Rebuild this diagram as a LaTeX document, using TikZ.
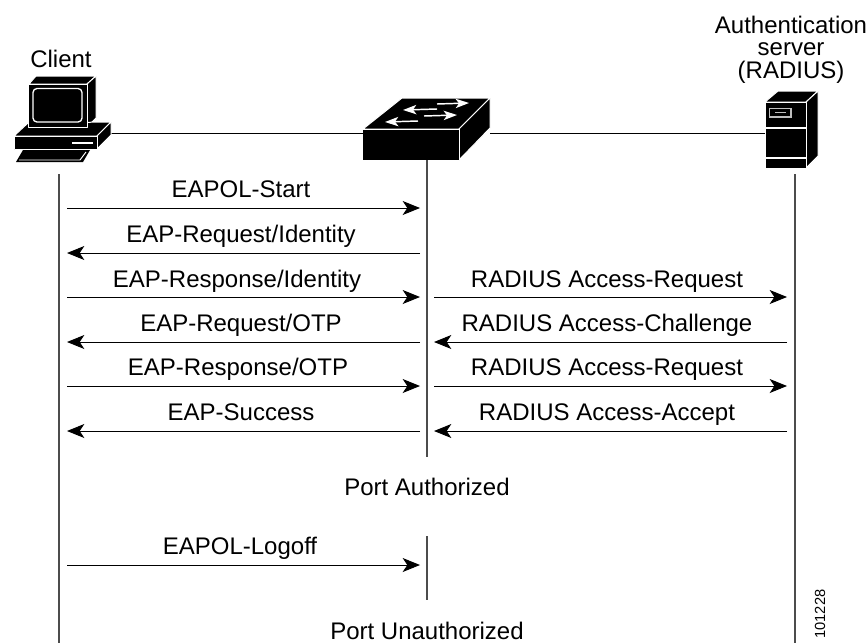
\documentclass[tikz,border=0pt]{standalone}
\usepackage{fontspec}
\setmainfont{Liberation Sans}
\usetikzlibrary{arrows.meta}
\tikzset{
  x=0.75pt,y=-0.75pt,
  wire/.style={draw=black,line width=0.75pt},
  life/.style={draw=black!70,line width=0.9pt},
  msg/.style={wire,-{Stealth[length=13pt,width=10.5pt,inset=3.5pt]}},
  lbl/.style={font=\fontsize{18}{21}\selectfont,text=black,inner sep=0pt,anchor=base},
  ink/.style={fill=black,draw=white,line width=0.75pt,line join=round},
  wht/.style={draw=white,line width=1pt},
  whtarrow/.style={draw=white,line width=1.1pt,-{Stealth[length=10pt,width=7pt,inset=2.5pt]}},
}
\begin{document}
\begin{tikzpicture}
\useasboundingbox (0,0) rectangle (866,643);
% named anchors
\coordinate (clientport) at (111,133);
\coordinate (swl) at (363,133);
\coordinate (swr) at (490,133);
\coordinate (srvport) at (765,133);
\coordinate (ct) at (59,174);  \coordinate (cb) at (59,643);
\coordinate (st) at (427,160); \coordinate (sb) at (427,457);
\coordinate (s2t) at (427,536); \coordinate (s2b) at (427,600);
\coordinate (rt) at (795,174); \coordinate (rb) at (795,643);
\draw[wire] (clientport) -- (swl);
\draw[wire] (swr) -- (srvport);
\draw[life] (ct) -- (cb);
\draw[life] (st) -- (sb);
\draw[life] (s2t) -- (s2b);
\draw[life] (rt) -- (rb);
% client
\path[ink] (29,84) -- (36,76) -- (96,76) -- (87,84) -- cycle;
\path[ink] (87,84) -- (96,76) -- (96,118) -- (87,127) -- cycle;
\path[ink] (14,136) -- (28,123) -- (111,122) -- (97,136) -- cycle;
\path[ink] (97,136) -- (111,122) -- (111,135) -- (97,149) -- cycle;
\path[ink] (14,136) rectangle (97,149.5);
\path[ink] (28,84) rectangle (87,127);
\draw[wht,rounded corners=3pt] (33,88.5) rectangle (82,122);
\draw[white,line width=1.5pt] (72,143) -- (93,143);
\path[fill=black] (16,162) -- (23,150) -- (90,150) -- (83,162) -- cycle;
\draw[white,line width=0.7pt] (19,160) -- (80,160) -- (86,152);
% switch
\path[ink] (363,129) -- (402,98) -- (490,98) -- (459,129) -- cycle;
\path[ink] (459,129) -- (490,98) -- (490,128) -- (459,160) -- cycle;
\path[fill=black] (363,129) rectangle (459,160);
\draw[white,line width=0.75pt] (363,129) -- (459,129) -- (459,160);
\draw[whtarrow] (437,104) -- (469,103);
\draw[whtarrow] (424,116) -- (457,115);
\draw[whtarrow] (437,109) -- (403,110);
\draw[whtarrow] (418,121) -- (385,122);
% server
\path[ink] (765,102) -- (778,91) -- (818,91) -- (806,102) -- cycle;
\path[ink] (806,102) -- (818,91) -- (818,156) -- (806,168) -- cycle;
\path[ink] (765,102) rectangle (806,168);
\draw[white,line width=1pt] (765,128) -- (806,128);
\draw[white,line width=1pt] (765,158) -- (806,158);
\draw[white!75!black,line width=0.8pt] (769.5,108.5) rectangle (791,117);
\draw[white!75!black,line width=1pt] (775,112.5) -- (786,112.5);
% labels
\node[lbl] (tclient) at (61,67) {Client};
\node[lbl] (tauth1) at (791,33) {Authentication};
\node[lbl] (tauth2) at (791,55) {server};
\node[lbl] (tauth3) at (791,78) {(RADIUS)};
% messages, left
\coordinate (L1) at (67,208); \coordinate (M1) at (420,208);
\draw[msg] (L1) -- (M1);
\coordinate (L2) at (67,253); \coordinate (M2) at (420,253);
\draw[msg] (M2) -- (L2);
\coordinate (L3) at (67,297); \coordinate (M3) at (420,297);
\draw[msg] (L3) -- (M3);
\coordinate (L4) at (67,342); \coordinate (M4) at (420,342);
\draw[msg] (M4) -- (L4);
\coordinate (L5) at (67,386); \coordinate (M5) at (420,386);
\draw[msg] (L5) -- (M5);
\coordinate (L6) at (67,431); \coordinate (M6) at (420,431);
\draw[msg] (M6) -- (L6);
\coordinate (L7) at (67,565); \coordinate (M7) at (420,565);
\draw[msg] (L7) -- (M7);
% messages, right
\coordinate (N3) at (434,297); \coordinate (R3) at (787,297);
\draw[msg] (N3) -- (R3);
\coordinate (N4) at (434,342); \coordinate (R4) at (787,342);
\draw[msg] (R4) -- (N4);
\coordinate (N5) at (434,386); \coordinate (R5) at (787,386);
\draw[msg] (N5) -- (R5);
\coordinate (N6) at (434,431); \coordinate (R6) at (787,431);
\draw[msg] (R6) -- (N6);
\node[lbl] (a1) at (241,197) {EAPOL-Start};
\node[lbl] (a2) at (241,242) {EAP-Request/Identity};
\node[lbl] (a3) at (237,287) {EAP-Response/Identity};
\node[lbl] (a4) at (241,331) {EAP-Request/OTP};
\node[lbl] (a5) at (238,375) {EAP-Response/OTP};
\node[lbl] (a6) at (241,420) {EAP-Success};
\node[lbl] (b3) at (607,287) {RADIUS Access-Request};
\node[lbl] (b4) at (607,331) {RADIUS Access-Challenge};
\node[lbl] (b5) at (607,375) {RADIUS Access-Request};
\node[lbl] (b6) at (607,420) {RADIUS Access-Accept};
\node[lbl] (pa) at (427,495) {Port Authorized};
\node[lbl] (l7) at (240,554) {EAPOL-Logoff};
\node[lbl] (pu) at (427,639) {Port Unauthorized};
\node[font=\fontsize{11}{13}\selectfont,inner sep=0pt,rotate=90,anchor=base] (num) at (825,614) {101228};
\end{tikzpicture}
\end{document}
